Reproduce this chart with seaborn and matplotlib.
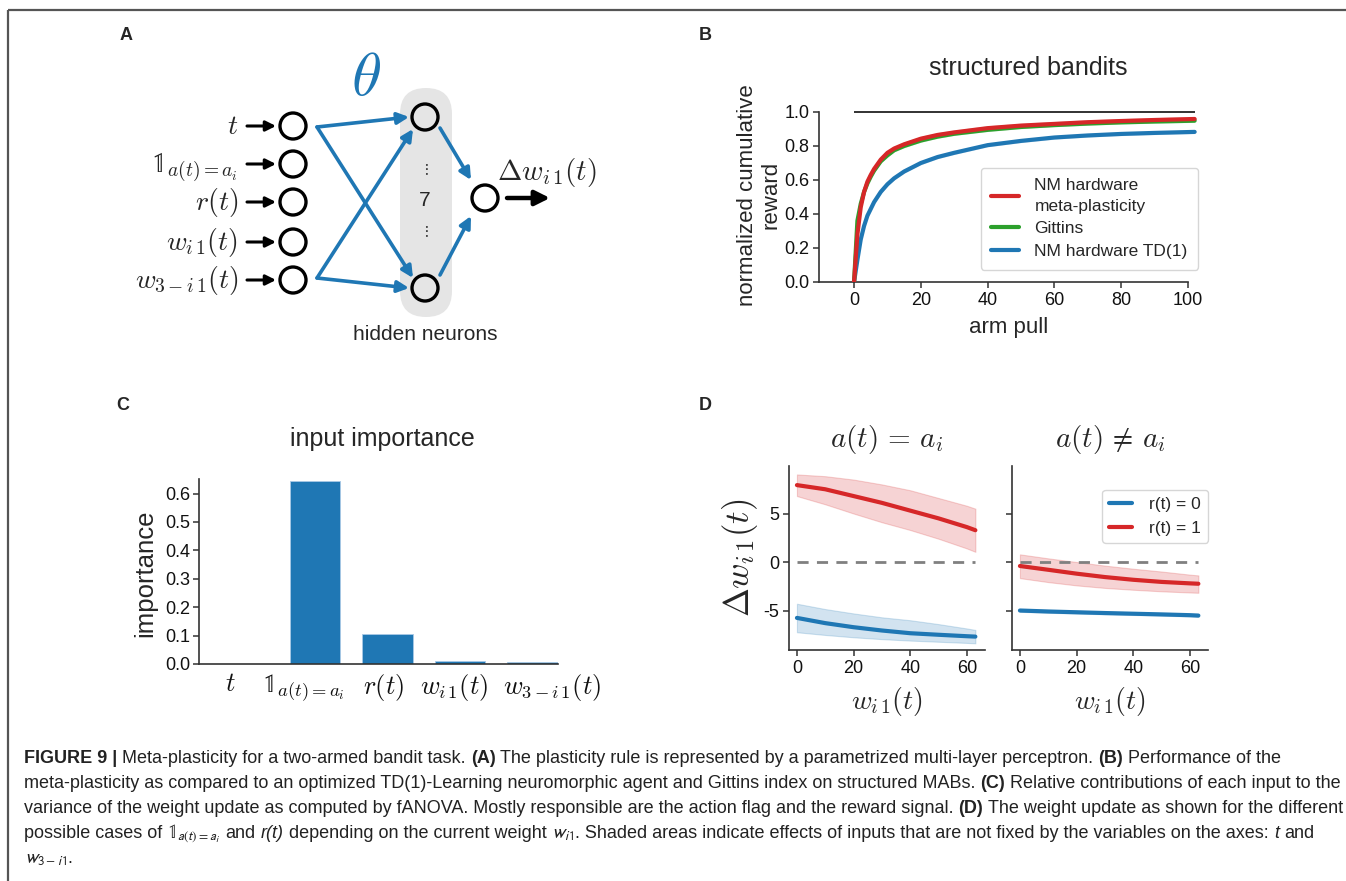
import matplotlib
matplotlib.use('Agg')
import matplotlib.pyplot as plt
import matplotlib.transforms as mtransforms
import seaborn as sns
import numpy as np
import pandas as pd
from matplotlib.patches import FancyBboxPatch, Circle, FancyArrowPatch

sns.set_style('ticks')
plt.rcParams['font.family'] = ['Liberation Sans', 'DejaVu Sans']
plt.rcParams['mathtext.fontset'] = 'cm'
plt.rcParams['axes.edgecolor'] = '#333333'
plt.rcParams['xtick.color'] = '#333333'
plt.rcParams['ytick.color'] = '#333333'
plt.rcParams['xtick.labelcolor'] = '#111111'
plt.rcParams['ytick.labelcolor'] = '#111111'

BLUE = '#1f77b4'
RED = '#d62728'
GREEN = '#2ca02c'

# ---------------- Panel B data ----------------
pulls = [0, 1, 2, 3, 4, 5, 6, 8, 10, 12, 15, 20, 25, 30, 40, 50, 60, 70, 80, 90, 100, 102]
meta_reward = [0.0, 0.28, 0.44, 0.53, 0.59, 0.63, 0.665, 0.72, 0.76, 0.785, 0.81, 0.843, 0.865,
               0.88, 0.905, 0.92, 0.93, 0.94, 0.947, 0.953, 0.958, 0.959]
gittins_reward = [0.0, 0.36, 0.46, 0.53, 0.58, 0.62, 0.655, 0.71, 0.745, 0.775, 0.80, 0.832, 0.855,
                  0.872, 0.895, 0.912, 0.923, 0.932, 0.939, 0.944, 0.948, 0.949]
td1_reward = [0.0, 0.13, 0.25, 0.33, 0.39, 0.43, 0.47, 0.53, 0.575, 0.61, 0.65, 0.70, 0.735,
              0.76, 0.805, 0.83, 0.85, 0.862, 0.871, 0.877, 0.882, 0.883]
meta_band = 0.014
gittins_band = 0.010
td1_band = 0.010
b_legend = ['NM hardware\nmeta-plasticity', 'Gittins', 'NM hardware TD(1)']
b_yticks = [0.0, 0.2, 0.4, 0.6, 0.8, 1.0]
b_xticks = [0, 20, 40, 60, 80, 100]

# ---------------- Panel C data ----------------
c_labels = [r'$t$', r'$\mathbb{1}_{a(t)=a_i}$', r'$r(t)$', r'$w_{i\,1}(t)$', r'$w_{3-i\,1}(t)$']
c_importance = [0.0, 0.645, 0.104, 0.010, 0.006]
c_yticks = [0.0, 0.1, 0.2, 0.3, 0.4, 0.5, 0.6]
c_label_dx = [-12, -12, -4, -6, 20]   # pixel offsets of the tick labels

# ---------------- Panel D data ----------------
d_w = [0, 10, 20, 30, 40, 50, 60, 63]
d_same_r1 = [7.93, 7.5, 6.8, 6.1, 5.3, 4.5, 3.6, 3.28]
d_same_r1_hi = [9.03, 8.85, 8.5, 8.0, 7.4, 6.6, 5.8, 5.5]
d_same_r1_lo = [6.8, 5.95, 5.0, 4.1, 3.3, 2.4, 1.4, 1.05]
d_same_r0 = [-5.76, -6.3, -6.72, -7.06, -7.34, -7.5, -7.65, -7.69]
d_same_r0_hi = [-4.3, -4.85, -5.3, -5.7, -6.0, -6.4, -6.85, -7.0]
d_same_r0_lo = [-7.24, -7.52, -7.76, -7.95, -8.1, -8.22, -8.34, -8.38]
d_diff_r1 = [-0.41, -0.8, -1.2, -1.55, -1.83, -2.05, -2.2, -2.24]
d_diff_r1_hi = [0.79, 0.38, 0.0, -0.37, -0.69, -0.98, -1.3, -1.38]
d_diff_r1_lo = [-1.66, -2.07, -2.41, -2.67, -2.86, -3.02, -3.14, -3.17]
d_diff_r0 = [-5.0, -5.1, -5.18, -5.26, -5.33, -5.4, -5.48, -5.52]
d_diff_r0_hi = [-4.85, -4.95, -5.03, -5.11, -5.18, -5.26, -5.34, -5.38]
d_diff_r0_lo = [-5.13, -5.23, -5.31, -5.39, -5.46, -5.53, -5.61, -5.65]
d_titles = [r'$a(t) \,=\, a_i$', r'$a(t) \,\neq\, a_i$']
d_legend = ['r(t) = 0', 'r(t) = 1']
d_xticks = [0, 20, 40, 60]
d_yticks = [-5, 0, 5]

# ---------------- Panel A content ----------------
a_inputs = [r'$t$', r'$\mathbb{1}_{a(t)=a_i}$', r'$r(t)$', r'$w_{i\,1}(t)$', r'$w_{3-i\,1}(t)$']
a_hidden_count = '7'
a_output = r'$\Delta w_{i\,1}(t)$'

W, H = 1346, 881
fig = plt.figure(figsize=(W / 100, H / 100), dpi=100)

# overlay axes in pixel coordinates
ov = fig.add_axes([0, 0, 1, 1])
ov.set_xlim(0, W)
ov.set_ylim(H, 0)
ov.axis('off')


def px_axes(l, t, r, b):
    return fig.add_axes([l / W, (H - b) / H, (r - l) / W, (b - t) / H])


# border
ov.plot([8, 8], [10, H], color='#555555', lw=1.6, solid_capstyle='butt')
ov.plot([8, W], [10, 10], color='#555555', lw=1.6, solid_capstyle='butt')

# panel letters
for letter, (lx, ly) in zip('ABCD', [(126, 35), (705, 35), (123, 405), (705, 405)]):
    ov.text(lx, ly, letter, fontsize=13, fontweight='bold', ha='center', va='center')

# ---------------- Panel A diagram ----------------
in_x = 293
in_ys = [126, 164, 202, 242, 280]
node_r = 13
hid_x = 425
hid_ys = [117, 288]
out_x, out_y = 485, 198

ov.add_patch(FancyBboxPatch((400, 88), 52, 229, boxstyle='round,pad=0,rounding_size=26',
                            fc='#e5e5e5', ec='none', zorder=1))
for y, lab in zip(in_ys, a_inputs):
    ov.add_patch(Circle((in_x, y), node_r, fc='white', ec='black', lw=2.4, zorder=3))
    ov.text(238, y + 8, lab, fontsize=20, ha='right', va='baseline', zorder=3)
    ov.add_patch(FancyArrowPatch((247, y), (276, y), arrowstyle='-|>', mutation_scale=15,
                                 lw=2.2, color='black', shrinkA=0, shrinkB=0, zorder=3))
for y in hid_ys:
    ov.add_patch(Circle((hid_x, y), node_r, fc='none', ec='black', lw=2.4, zorder=3))
ov.add_patch(Circle((out_x, out_y), node_r, fc='white', ec='black', lw=2.4, zorder=3))
ov.text(hid_x, 201, a_hidden_count, fontsize=15, ha='center', va='center', zorder=3)
ov.text(hid_x, 170, r'$\vdots$', fontsize=11, ha='center', va='center', zorder=3)
ov.text(hid_x, 232, r'$\vdots$', fontsize=11, ha='center', va='center', zorder=3)

blue_arrows = [((317, 127), (409, 117)), ((317, 127), (413, 278)),
               ((317, 278), (413, 129)), ((317, 278), (409, 288)),
               ((440, 128), (471, 180)), ((440, 275), (471, 216))]
for a0, a1 in blue_arrows:
    ov.add_patch(FancyArrowPatch(a0, a1, arrowstyle='-|>', mutation_scale=17, lw=2.6,
                                 color=BLUE, shrinkA=0, shrinkB=0, zorder=2))
ov.add_patch(FancyArrowPatch((507, out_y), (550, out_y), arrowstyle='-|>', mutation_scale=22,
                             lw=3.2, color='black', shrinkA=0, shrinkB=0, zorder=3))
ov.text(547, 180, a_output, fontsize=21, ha='center', va='baseline', zorder=3)
ov.text(366, 80, r'$\theta$', fontsize=44, color=BLUE, ha='center', va='center', zorder=3)
ov.text(425, 335, 'hidden neurons', fontsize=15, ha='center', va='center', zorder=3)

# ---------------- Panel B ----------------
axb = px_axes(819, 108.6, 1198, 282)
axb.set_facecolor('none')
dfb = pd.DataFrame({'pull': pulls, 'meta': meta_reward, 'gittins': gittins_reward, 'td1': td1_reward})
for col, color, band in [('meta', RED, meta_band), ('gittins', GREEN, gittins_band),
                         ('td1', BLUE, td1_band)]:
    y = dfb[col].to_numpy()
    axb.fill_between(dfb['pull'], y - band, y + band, color=color, alpha=0.2, lw=0, zorder=2)
sns.lineplot(data=dfb, x='pull', y='td1', color=BLUE, lw=3, ax=axb, label=b_legend[2], zorder=3)
sns.lineplot(data=dfb, x='pull', y='gittins', color=GREEN, lw=3, ax=axb, label=b_legend[1], zorder=4)
sns.lineplot(data=dfb, x='pull', y='meta', color=RED, lw=3, ax=axb, label=b_legend[0], zorder=5)
axb.hlines(1.0, 0, pulls[-1], color='#222222', lw=1.3, zorder=1)
axb.set_xlim(-10.5, 103)
axb.set_ylim(0, 1.02)
axb.set_xticks(b_xticks)
axb.set_yticks(b_yticks)
axb.set_yticklabels([f'{v:.1f}' for v in b_yticks])
sns.despine(ax=axb)
axb.spines['left'].set_bounds(0, 1)
axb.spines['bottom'].set_bounds(-10.5, 100)
for s in ['left', 'bottom']:
    axb.spines[s].set_linewidth(1.2)
axb.tick_params(labelsize=13, length=4, width=1.1, pad=3)
axb.set_xlabel('arm pull', fontsize=16)
axb.set_ylabel('normalized cumulative\nreward', fontsize=16, linespacing=1.1)
axb.xaxis.set_label_coords(0.5, -0.2)
axb.yaxis.set_label_coords(-0.1, 0.5)
axb.set_title('structured bandits', fontsize=18, pad=24, x=0.551)
h, l = axb.get_legend_handles_labels()
order = [l.index(b_legend[0]), l.index(b_legend[1]), l.index(b_legend[2])]
leg = axb.legend([h[i] for i in order], [l[i] for i in order], loc='lower right',
                 bbox_to_anchor=(1.0, 0.07), borderaxespad=0, fontsize=12.5, handlelength=1.6,
                 handletextpad=0.9, labelspacing=0.45, frameon=True, fancybox=True,
                 edgecolor='#cccccc', borderpad=0.6)
for lh in leg.get_lines():
    lh.set_linewidth(3)
for lt in leg.get_texts():
    lt.set_linespacing(1.45)

# ---------------- Panel C ----------------
axc = px_axes(199, 479.4, 558, 664)
axc.set_facecolor('none')
dfc = pd.DataFrame({'input': c_labels, 'importance': c_importance})
sns.barplot(data=dfc, x='input', y='importance', color=BLUE, saturation=1, width=0.7,
            ax=axc, edgecolor='#a9c9e6', linewidth=0.6)
axc.set_xlim(-0.6, 4.35)
axc.set_ylim(0, 0.65)
axc.set_yticks(c_yticks)
axc.set_yticklabels([f'{v:.1f}' for v in c_yticks])
sns.despine(ax=axc)
for s in ['left', 'bottom']:
    axc.spines[s].set_linewidth(1.2)
axc.tick_params(axis='y', labelsize=13, length=4, width=1.1, pad=2)
axc.tick_params(axis='x', labelsize=19, length=0, pad=6)
axc.set_xlabel('')
axc.set_ylabel('importance', fontsize=18.5)
axc.yaxis.set_label_coords(-0.115, 0.49)
axc.set_title('input importance', fontsize=18, pad=24, x=0.512)
for lab, dx in zip(axc.get_xticklabels(), c_label_dx):
    lab.set_transform(lab.get_transform() + mtransforms.ScaledTranslation(dx / 100, 0, fig.dpi_scale_trans))

# ---------------- Panel D ----------------
axd1 = px_axes(789, 466, 985, 650)
axd2 = px_axes(1012, 466, 1208, 650)
panels = [(axd1, d_same_r0, d_same_r0_lo, d_same_r0_hi, d_same_r1, d_same_r1_lo, d_same_r1_hi),
          (axd2, d_diff_r0, d_diff_r0_lo, d_diff_r0_hi, d_diff_r1, d_diff_r1_lo, d_diff_r1_hi)]
for k, (ax, r0, r0lo, r0hi, r1, r1lo, r1hi) in enumerate(panels):
    ax.set_facecolor('none')
    ax.fill_between(d_w, r1lo, r1hi, color=RED, alpha=0.2, lw=0.8, edgecolor=RED)
    ax.fill_between(d_w, r0lo, r0hi, color=BLUE, alpha=0.2, lw=0.8, edgecolor=BLUE)
    ax.hlines(0, d_w[0], d_w[-1], color='#808080', lw=2, linestyles=(0, (4, 3)), zorder=1)
    sns.lineplot(x=d_w, y=r0, color=BLUE, lw=3, ax=ax, label=d_legend[0])
    sns.lineplot(x=d_w, y=r1, color=RED, lw=3, ax=ax, label=d_legend[1])
    ax.set_xlim(-2.8, 66.4)
    ax.set_ylim(-9.07, 9.9)
    ax.set_xticks(d_xticks)
    ax.set_yticks(d_yticks)
    sns.despine(ax=ax)
    for s in ['left', 'bottom']:
        ax.spines[s].set_linewidth(1.2)
    ax.tick_params(labelsize=13, length=4, width=1.1, pad=3)
    ax.set_title(d_titles[k], fontsize=21, pad=14)
    ax.set_xlabel(r'$w_{i\,1}(t)$', fontsize=20)
    ax.xaxis.set_label_coords(0.5, -0.19)
    if k == 0:
        ax.set_yticklabels([str(v) for v in d_yticks])
        ax.set_ylabel(r'$\Delta w_{i\,1}(t)$', fontsize=25)
        ax.yaxis.set_label_coords(-0.15, 0.5)
        ax.get_legend().remove()
    else:
        ax.set_yticklabels([])
        ax.set_ylabel('')
        lg = ax.legend(loc='upper right', bbox_to_anchor=(1.0, 0.87), borderaxespad=0,
                       fontsize=12.5, handlelength=1.3, handletextpad=1.0, labelspacing=0.5,
                       edgecolor='#cccccc', fancybox=True, borderpad=0.4)
        for lh in lg.get_lines():
            lh.set_linewidth(3)

# ---------------- Caption ----------------
cap_lines = [
    [("FIGURE 9 |", 'b', False), ("Meta-plasticity for a two-armed bandit task.", 'n', True), ("(A)", 'b', True),
     ("The plasticity rule is represented by a parametrized multi-layer perceptron.", 'n', True),
     ("(B)", 'b', True), ("Performance of the", 'n', True)],
    [("meta-plasticity as compared to an optimized TD(1)-Learning neuromorphic agent and Gittins index on structured MABs.", 'n', False),
     ("(C)", 'b', True), ("Relative contributions of each input to the", 'n', True)],
    [("variance of the weight update as computed by fANOVA. Mostly responsible are the action flag and the reward signal.", 'n', False),
     ("(D)", 'b', True), ("The weight update as shown for the different", 'n', True)],
    [("possible cases of", 'n', False), (r"$\mathbb{1}_{a(t)=a_i}$", 'm', True), ("and", 'n', True),
     ("r(t)", 'i', True), ("depending on the current weight", 'n', True), (r"$w_{i\,1}$", 'm', True),
     (". Shaded areas indicate effects of inputs that are not fixed by the variables on the axes:", 'n', False),
     ("t", 'i', True), ("and", 'n', True)],
    [(r"$w_{3-i\,1}$", 'm', False), (".", 'n', False)],
]
cap_fs = 13.0
cap_color = '#222222'
renderer = fig.canvas.get_renderer()
t1 = ov.text(0, 0, 'x x', fontsize=cap_fs)
t2 = ov.text(0, 0, 'xx', fontsize=cap_fs)
space_w = t1.get_window_extent(renderer).width - t2.get_window_extent(renderer).width
t1.remove()
t2.remove()
for li, line in enumerate(cap_lines):
    x = 24
    y = 763 + 25 * li
    for txt, style, sp in line:
        if sp:
            x += space_w
        kw = dict(fontsize=cap_fs, color=cap_color, ha='left', va='baseline')
        if style == 'b':
            kw['fontweight'] = 'bold'
        elif style == 'i':
            kw['fontstyle'] = 'italic'
        elif style == 'm':
            kw['math_fontfamily'] = 'stixsans'
            kw['fontsize'] = cap_fs * 1.05
        t = ov.text(x, y, txt, **kw)
        x += t.get_window_extent(renderer).width

fig.savefig('out.png', dpi=100)
